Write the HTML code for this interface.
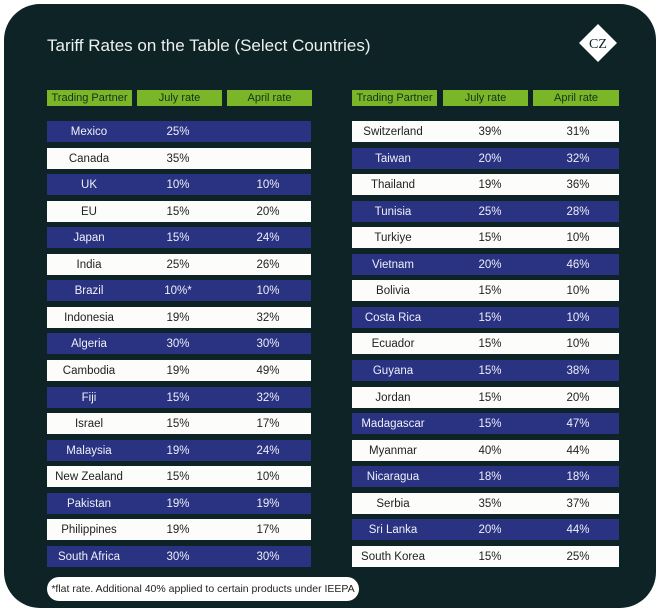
<!DOCTYPE html>
<html><head><meta charset="utf-8"><style>
*{margin:0;padding:0;box-sizing:border-box}
body{width:660px;height:612px;background:#fff;position:relative;font-family:"Liberation Sans",sans-serif;overflow:hidden}
.panel{position:absolute;left:4px;top:4px;width:652px;height:604px;background:#0d2326;border-radius:36px}
.t{position:absolute;left:47px;top:36px;color:#eef0ee;font-size:17px}
.h{position:absolute;top:90px;height:16px;background:#7ab628;color:#14321a;font-size:11px;text-align:center;line-height:16px}
.r{position:absolute;height:21px;font-size:11.5px;line-height:22px}
.n{background:#2a3282;color:#eef0f8}
.w{background:#fcfcfa;color:#222}
.r span{position:absolute;top:0;transform:translateX(-50%);white-space:nowrap}
.foot{position:absolute;left:47px;top:577px;width:312px;height:24px;background:#fff;border-radius:12px;font-size:10.5px;line-height:24px;text-align:center;color:#222}
</style></head><body>
<div class="panel"></div>
<div class="t">Tariff Rates on the Table (Select Countries)</div>
<svg style="position:absolute;left:578px;top:23px" width="40" height="40"><polygon points="20,1 39,20 20,39 1,20" fill="#fff"/><text x="20" y="25" font-size="14" text-anchor="middle" font-family="Liberation Serif" fill="#0d2326">CZ</text></svg>
<div class="h" style="left:47px;width:85px">Trading Partner</div>
<div class="h" style="left:137px;width:85px">July rate</div>
<div class="h" style="left:227px;width:85px">April rate</div>
<div class="h" style="left:352px;width:85px">Trading Partner</div>
<div class="h" style="left:443px;width:85px">July rate</div>
<div class="h" style="left:533px;width:86px">April rate</div>
<div id="rows"></div>
<div class="foot">*flat rate. Additional 40% applied to certain products under IEEPA</div>
<script>
var L=[["Mexico","25%",""],["Canada","35%",""],["UK","10%","10%"],["EU","15%","20%"],["Japan","15%","24%"],["India","25%","26%"],["Brazil","10%*","10%"],["Indonesia","19%","32%"],["Algeria","30%","30%"],["Cambodia","19%","49%"],["Fiji","15%","32%"],["Israel","15%","17%"],["Malaysia","19%","24%"],["New Zealand","15%","10%"],["Pakistan","19%","19%"],["Philippines","19%","17%"],["South Africa","30%","30%"]];
var R=[["Switzerland","39%","31%"],["Taiwan","20%","32%"],["Thailand","19%","36%"],["Tunisia","25%","28%"],["Turkiye","15%","10%"],["Vietnam","20%","46%"],["Bolivia","15%","10%"],["Costa Rica","15%","10%"],["Ecuador","15%","10%"],["Guyana","15%","38%"],["Jordan","15%","20%"],["Madagascar","15%","47%"],["Myanmar","40%","44%"],["Nicaragua","18%","18%"],["Serbia","35%","37%"],["Sri Lanka","20%","44%"],["South Korea","15%","25%"]];
var h="";
function tb(d,x,w,cx,nav0){d.forEach(function(r,i){var c=(i%2==0)==nav0?"n":"w";var y=121+i*26.56;
h+='<div class="r '+c+'" style="left:'+x+'px;width:'+w+'px;top:'+y+'px"><span style="left:'+cx[0]+'px">'+r[0]+'</span><span style="left:'+cx[1]+'px">'+r[1]+'</span><span style="left:'+cx[2]+'px">'+r[2]+'</span></div>';});}
tb(L,47,264,[42,131,221],true);
tb(R,352,267,[41,138,226],false);
document.getElementById("rows").innerHTML=h;
</script>
</body></html>
